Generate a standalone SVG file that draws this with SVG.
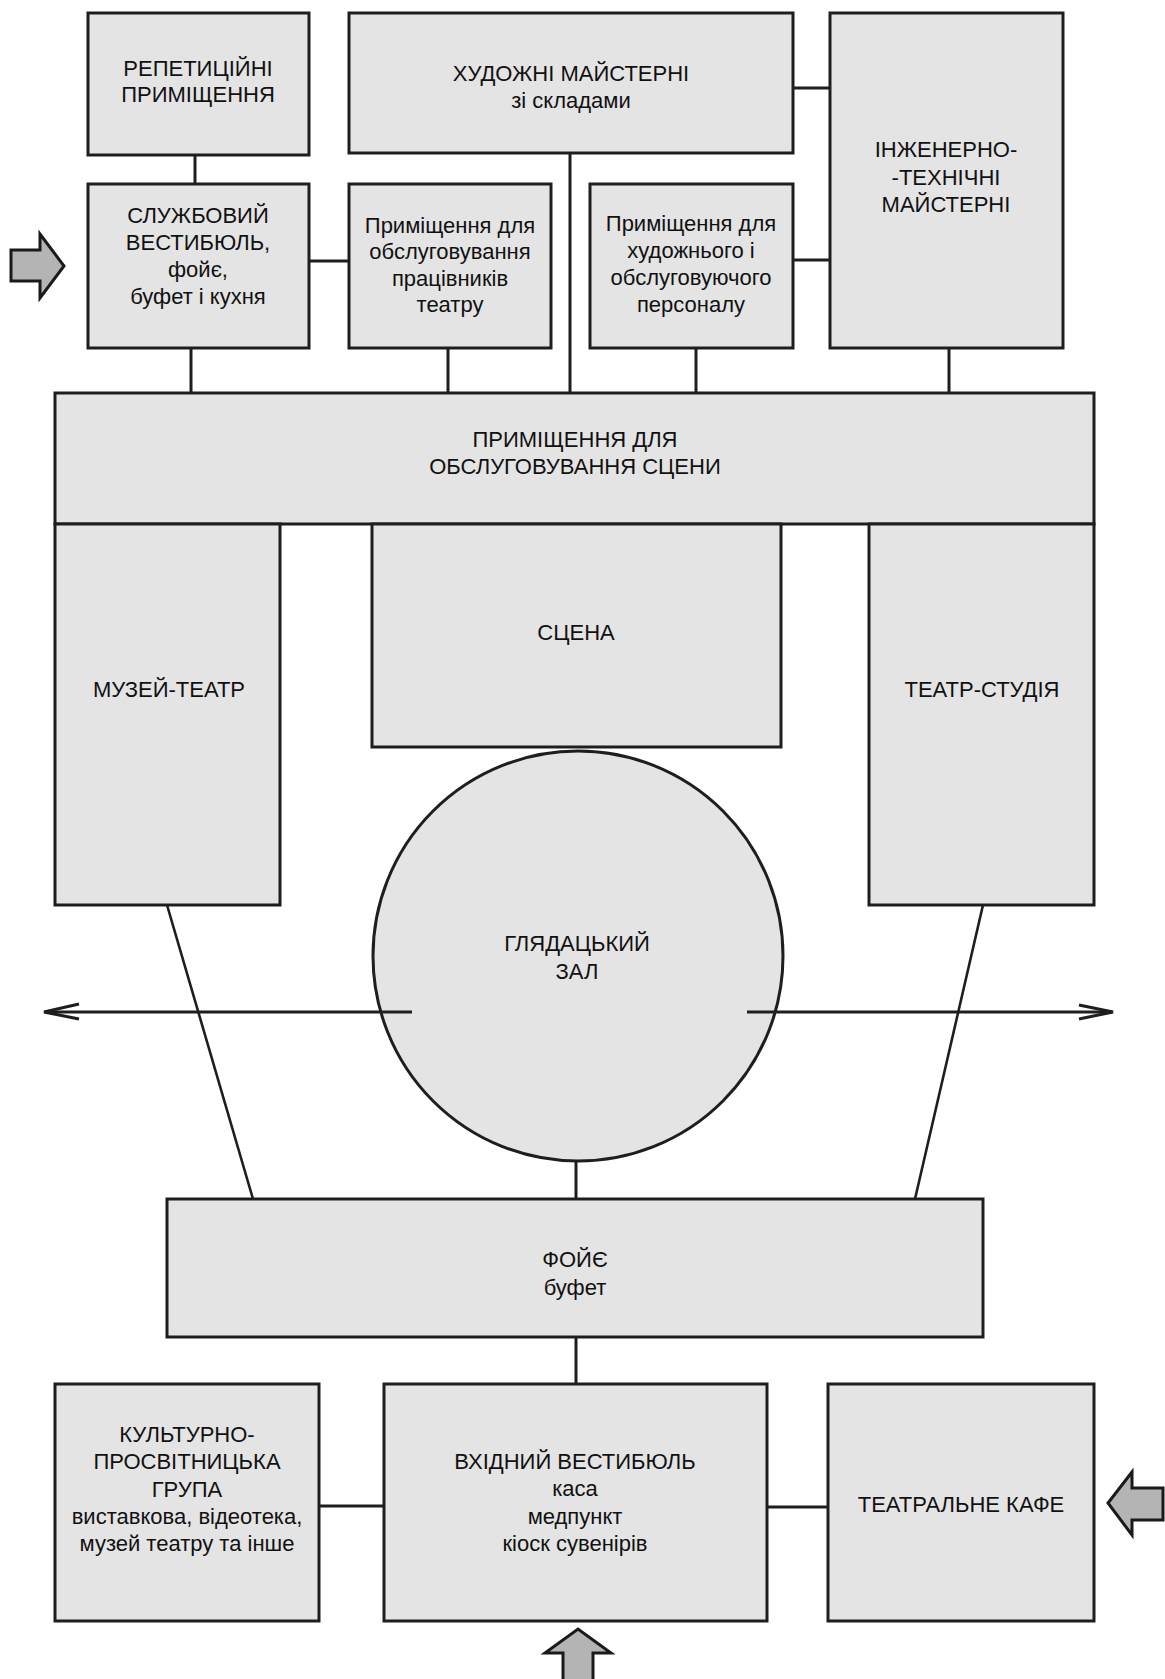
<svg xmlns="http://www.w3.org/2000/svg" width="1165" height="1679" viewBox="0 0 1165 1679">
<style>
.box{fill:#e4e4e4;stroke:#1e1e1e;stroke-width:3}
.t{font-family:"Liberation Sans",Arial,sans-serif;font-size:22px;fill:#111;text-anchor:middle}
.c{stroke:#1e1e1e;stroke-width:3;fill:none}
.d{stroke:#1e1e1e;stroke-width:2.6;fill:none}
.ba{fill:#b4b4b4;stroke:#1a1a1a;stroke-width:3;stroke-linejoin:miter}
</style>
<rect width="1165" height="1679" fill="#fff"/>
<g id="connectors">
<line class="c" x1="195" y1="155" x2="195" y2="184"/>
<line class="c" x1="309" y1="261" x2="349" y2="261"/>
<line class="c" x1="191" y1="348" x2="191" y2="393"/>
<line class="c" x1="448" y1="348" x2="448" y2="393"/>
<line class="c" x1="570" y1="153" x2="570" y2="393"/>
<line class="c" x1="793" y1="88" x2="830" y2="88"/>
<line class="c" x1="793" y1="260" x2="830" y2="260"/>
<line class="c" x1="696" y1="348" x2="696" y2="393"/>
<line class="c" x1="949" y1="348" x2="949" y2="393"/>
<line class="d" x1="167" y1="905" x2="253" y2="1199"/>
<line class="d" x1="983" y1="905" x2="915" y2="1199"/>
<line class="c" x1="576" y1="1160" x2="576" y2="1199"/>
<line class="c" x1="576" y1="1337" x2="576" y2="1384"/>
<line class="c" x1="319" y1="1506" x2="384" y2="1506"/>
<line class="c" x1="767" y1="1507" x2="828" y2="1507"/>
</g>
<g id="n-repet"><rect class="box" x="88" y="13" width="221" height="142"/>
<text class="t" x="198" y="76">РЕПЕТИЦІЙНІ</text><text class="t" x="198" y="102">ПРИМІЩЕННЯ</text></g>
<g id="n-khud"><rect class="box" x="349" y="13" width="444" height="140"/>
<text class="t" x="571" y="81">ХУДОЖНІ МАЙСТЕРНІ</text><text class="t" x="571" y="108">зі складами</text></g>
<g id="n-inzh"><rect class="box" x="830" y="13" width="233" height="335"/>
<text class="t" x="946" y="157">ІНЖЕНЕРНО-</text><text class="t" x="946" y="185">-ТЕХНІЧНІ</text><text class="t" x="946" y="212">МАЙСТЕРНІ</text></g>
<g id="n-sluzh"><rect class="box" x="88" y="184" width="221" height="164"/>
<text class="t" x="198" y="223">СЛУЖБОВИЙ</text><text class="t" x="198" y="250">ВЕСТИБЮЛЬ,</text><text class="t" x="198" y="277">фойє,</text><text class="t" x="198" y="304">буфет і кухня</text></g>
<g id="n-prac"><rect class="box" x="349" y="184" width="202" height="164"/>
<text class="t" x="450" y="233">Приміщення для</text><text class="t" x="450" y="259">обслуговування</text><text class="t" x="450" y="286">працівників</text><text class="t" x="450" y="312">театру</text></g>
<g id="n-pers"><rect class="box" x="590" y="184" width="203" height="164"/>
<text class="t" x="691" y="231">Приміщення для</text><text class="t" x="691" y="258">художнього і</text><text class="t" x="691" y="285">обслуговуючого</text><text class="t" x="691" y="312">персоналу</text></g>
<g id="n-band"><rect class="box" x="55" y="393" width="1039" height="131"/>
<text class="t" x="575" y="447">ПРИМІЩЕННЯ ДЛЯ</text><text class="t" x="575" y="474">ОБСЛУГОВУВАННЯ СЦЕНИ</text></g>
<g id="n-muzei"><rect class="box" x="55" y="524" width="225" height="381"/>
<text class="t" x="169" y="697">МУЗЕЙ-ТЕАТР</text></g>
<g id="n-scena"><rect class="box" x="372" y="524" width="409" height="223"/>
<text class="t" x="576" y="640">СЦЕНА</text></g>
<g id="n-studio"><rect class="box" x="869" y="524" width="225" height="381"/>
<text class="t" x="982" y="697">ТЕАТР-СТУДІЯ</text></g>
<g id="n-zal"><circle class="box" cx="578" cy="956" r="205" stroke-width="2.6"/>
<text class="t" x="577" y="951">ГЛЯДАЦЬКИЙ</text><text class="t" x="577" y="979">ЗАЛ</text></g>
<g id="arrows">
<line class="c" x1="412" y1="1012" x2="45" y2="1012"/>
<polyline class="c" points="79,1004 44,1012 79,1019"/>
<line class="c" x1="747" y1="1012" x2="1112" y2="1012"/>
<polyline class="c" points="1079,1005 1113,1012 1079,1019"/>
</g>
<g id="n-foye"><rect class="box" x="167" y="1199" width="816" height="138"/>
<text class="t" x="575" y="1267">ФОЙЄ</text><text class="t" x="575" y="1295">буфет</text></g>
<g id="n-kult"><rect class="box" x="55" y="1384" width="264" height="237"/>
<text class="t" x="187" y="1442">КУЛЬТУРНО-</text><text class="t" x="187" y="1469">ПРОСВІТНИЦЬКА</text><text class="t" x="187" y="1497">ГРУПА</text><text class="t" x="187" y="1524">виставкова, відеотека,</text><text class="t" x="187" y="1551">музей театру та інше</text></g>
<g id="n-vkhid"><rect class="box" x="384" y="1384" width="383" height="237"/>
<text class="t" x="575" y="1469">ВХІДНИЙ ВЕСТИБЮЛЬ</text><text class="t" x="575" y="1496">каса</text><text class="t" x="575" y="1524">медпункт</text><text class="t" x="575" y="1551">кіоск сувенірів</text></g>
<g id="n-kafe"><rect class="box" x="828" y="1384" width="266" height="237"/>
<text class="t" x="961" y="1512">ТЕАТРАЛЬНЕ КАФЕ</text></g>
<g id="entries">
<polygon class="ba" points="11,250 40,250 40,234 64,266 40,298 40,281 11,281"/>
<polygon class="ba" points="1163,1488 1132,1488 1132,1472 1108,1503 1132,1535 1132,1520 1163,1520"/>
<polygon class="ba" points="563,1681 563,1653 545,1653 578,1629 611,1653 593,1653 593,1681"/>
</g>
</svg>
